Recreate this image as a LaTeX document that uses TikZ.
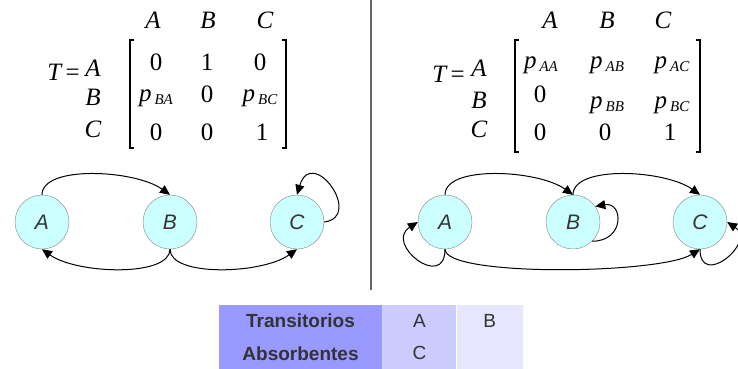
\documentclass[tikz,border=0pt]{standalone}
\usepackage{fontspec}
\setmainfont{Liberation Serif}
\setsansfont{Liberation Sans}
\usepackage{tikz}
\usetikzlibrary{positioning,arrows.meta}
\definecolor{cNode}{HTML}{CCFFFF}
\definecolor{cTxt}{HTML}{333333}
\definecolor{cHead}{HTML}{9999FF}
\definecolor{cMid}{HTML}{CCCCFF}
\definecolor{cLight}{HTML}{E6E6FF}
\newcommand{\pp}[1]{\textit{p}\kern3pt\raisebox{-3.5pt}{\fontsize{15}{15}\selectfont\textit{#1}}}

\begin{document}
\begin{tikzpicture}[
    x=1pt, y=-1pt,
    ent/.style={font=\fontsize{25}{25}\selectfont, inner sep=0pt, anchor=base},
    lbl/.style={ent, font=\fontsize{25}{25}\selectfont\itshape},
    brk/.style={line width=1.4pt},
    stnode/.style={circle, draw=gray, fill=cNode, minimum size=54pt, inner sep=0pt, font=\sffamily\itshape\fontsize{21}{21}\selectfont, text=cTxt},
    arr/.style={-{Triangle[length=10pt,width=9pt]}, line width=1pt},
    cell/.style={minimum height=32pt, inner sep=0pt, font=\sffamily\fontsize{19}{19}\selectfont, text=cTxt},
    hcell/.style={cell, fill=cHead, minimum width=163pt, font=\sffamily\bfseries\fontsize{19}{19}\selectfont}
]
\useasboundingbox (0,0) rectangle (738,368);
\clip (0,0) rectangle (738,368);

% left matrix
\node[lbl] (lhA) at (153,28) {A};
\node[lbl] (lhB) at (208,28) {B};
\node[lbl] (lhC) at (265,28) {C};
\node[ent, anchor=base east] (lT) at (80,80) {\textit{T}\kern3pt=};
\node[lbl] (lrA) at (93,76) {A};
\node[lbl] (lrB) at (93,105) {B};
\node[lbl] (lrC) at (93,137) {C};
\node[ent] (l11) at (156,70) {0};
\node[ent] (l12) at (207,70) {1};
\node[ent] (l13) at (260,70) {0};
\node[ent] (l21) at (156,101) {\pp{BA}};
\node[ent] (l22) at (207,102) {0};
\node[ent] (l23) at (260,101) {\pp{BC}};
\node[ent] (l31) at (156,140) {0};
\node[ent] (l32) at (207,140) {0};
\node[ent] (l33) at (262,140) {1};
\draw[brk] (134,40) -- (130,40) -- (130,148) -- (134,148);
\draw[brk] (282,40) -- (286,40) -- (286,148) -- (282,148);

% right matrix
\node[lbl] (rhA) at (550,28) {A};
\node[lbl] (rhB) at (607,28) {B};
\node[lbl] (rhC) at (663,28) {C};
\node[ent, anchor=base east] (rT) at (465,82) {\textit{T}\kern3pt=};
\node[lbl] (rrA) at (479,76) {A};
\node[lbl] (rrB) at (479,108) {B};
\node[lbl] (rrC) at (479,137) {C};
\node[ent] (r11) at (541,68) {\pp{AA}};
\node[ent] (r12) at (607,68) {\pp{AB}};
\node[ent] (r13) at (672,68) {\pp{AC}};
\node[ent] (r21) at (540,102) {0};
\node[ent] (r22) at (607,108) {\pp{BB}};
\node[ent] (r23) at (672,108) {\pp{BC}};
\node[ent] (r31) at (540,140) {0};
\node[ent] (r32) at (605,140) {0};
\node[ent] (r33) at (670,140) {1};
\draw[brk] (519,40) -- (515,40) -- (515,152) -- (519,152);
\draw[brk] (696,40) -- (700,40) -- (700,152) -- (696,152);

% divider
\draw[line width=2pt, gray!80!black] (371,0) -- (371,290);

% left graph
\node[stnode] (lA) at (42,222) {A};
\node[stnode] (lB) at (170,222) {B};
\node[stnode] (lC) at (297,222) {C};
\draw[arr] (lA.north) .. controls +(0,-30) and +(-35,-25) .. (lB.north);
\draw[arr] (lB.south) .. controls +(0,28) and +(35,25) .. (lA.south);
\draw[arr] (lB.south) .. controls +(0,28) and +(-35,25) .. (lC.south);
\draw[arr] (lC.east) .. controls +(40,-5) and +(15,-50) .. (lC.north);

% right graph
\node[stnode] (rA) at (445,222) {A};
\node[stnode] (rB) at (573,222) {B};
\node[stnode] (rC) at (700,222) {C};
\draw[arr] (rA.north) .. controls +(0,-30) and +(-35,-25) .. (rB.north);
\draw[arr] (rB.north) .. controls +(0,-30) and +(-35,-25) .. (rC.north);
\draw[arr] (rA.south) .. controls +(0,28) and +(-40,25) .. (rC.south);
\draw[arr] (rA.south) .. controls +(0,42) and +(-34,22) .. (rA.west);
\draw[arr] (rB.-45) .. controls +(33,0) and +(28,-5) .. (rB.35);
\draw[arr] (rC.south) .. controls +(0,40) and +(30,20) .. (rC.east);

% table
\node[hcell] (trans) at (300.5,321) {Transitorios};
\node[cell, fill=cMid, minimum width=74pt, right=0pt of trans] (transA) {A};
\node[cell, fill=cLight, minimum width=66pt, right=0pt of transA] (transB) {B};
\node[hcell, below=0pt of trans] (absorb) {Absorbentes};
\node[cell, fill=cMid, minimum width=74pt, right=0pt of absorb] (absorbC) {C};
\node[cell, fill=cLight, minimum width=66pt, right=0pt of absorbC] (absorbE) {};
\end{tikzpicture}
\end{document}
